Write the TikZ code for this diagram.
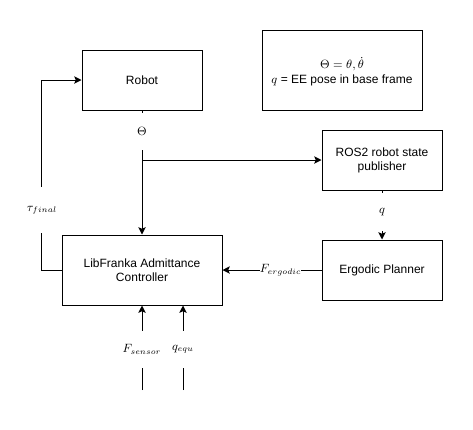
\documentclass[tikz,border=0pt]{standalone}
\usepackage[no-math]{fontspec}
\setmainfont{Liberation Sans}
\usetikzlibrary{arrows.meta}
\begin{document}
\begin{tikzpicture}[x=0.75pt,y=-0.75pt,
  box/.style={draw, line width=0.75pt, align=center, inner sep=0pt,
    font=\fontsize{9}{10.5}\selectfont},
  conn/.style={line width=0.75pt, -{Stealth[length=5.5pt,width=5.5pt,inset=1.2pt]}},
  lbl/.style={fill=white, inner sep=0pt, font=\fontsize{9}{10.5}\selectfont}]
\useasboundingbox (0,0) rectangle (473,429);
\node[box, minimum width=90pt, minimum height=45pt] (robot) at (142,80) {Robot};
\node[box, minimum width=120pt, minimum height=60pt] (note) at (342,70) {};
\node[font=\fontsize{9}{10.5}\selectfont, inner sep=0pt] (notea) at (342,64) {$\Theta=\theta,\dot{\theta}$};
\node[font=\fontsize{9}{10.5}\selectfont, inner sep=0pt] (noteb) at (342,80) {$q$ = EE pose in base frame};
\node[box, minimum width=90pt, minimum height=45pt] (ros) at (382,160) {ROS2 robot state\\publisher};
\node[box, minimum width=120pt, minimum height=52.5pt] (ctrl) at (142,270) {LibFranka Admittance\\Controller};
\node[box, minimum width=90pt, minimum height=45pt] (erg) at (382,270) {Ergodic Planner};
\coordinate (br) at (142,160);
\coordinate (fs) at (142,390);
\coordinate (qe) at (183,390);
% connectors
\draw[conn] (robot.south) -- (ctrl.north);
\draw[conn] (br) -- (ros.west);
\draw[conn] (ros.south) -- (erg.north);
\draw[conn] (erg.west) -- (ctrl.east);
\draw[conn] (ctrl.west) -- ++(-20,0) |- (robot.west);
\draw[conn] (fs) -- (ctrl.south);
\draw[conn] (qe) -- (qe |- ctrl.south);
% labels
\node[lbl, minimum height=28pt, minimum width=12pt] (lth) at (142,131.5) {$\Theta$};
\node[lbl, minimum height=28.5pt, minimum width=12pt] (lq) at (382,212) {$q$};
\node[lbl, minimum height=34.5pt, minimum width=20pt] (ltau) at (42,210) {$\tau_{final}$};
\node[lbl, minimum width=27.75pt, minimum height=10pt] (lerg) at (280.5,270) {$F_{ergodic}$};
\node[lbl, minimum height=27.75pt, minimum width=20pt] (lfs) at (142,349.5) {$F_{sensor}$};
\node[lbl, minimum height=27.75pt, minimum width=16pt] (lqe) at (183,349.5) {$q_{equ}$};
\end{tikzpicture}
\end{document}
